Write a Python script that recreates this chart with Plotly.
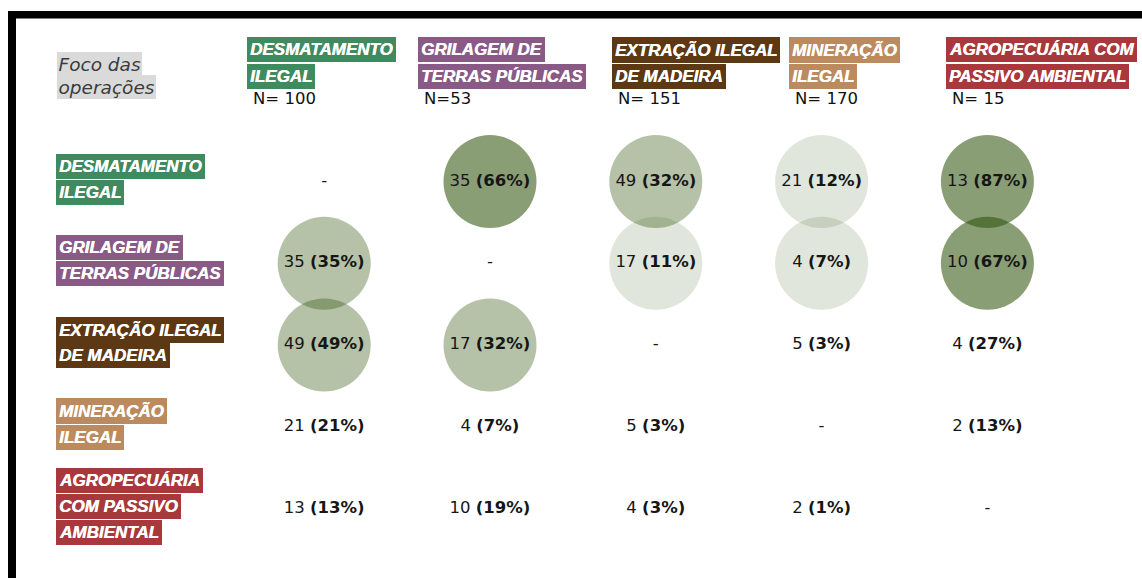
import plotly.graph_objects as go

# ---------------- data ----------------
categorias = ["DESMATAMENTO ILEGAL", "GRILAGEM DE TERRAS PÚBLICAS",
              "EXTRAÇÃO ILEGAL DE MADEIRA", "MINERAÇÃO ILEGAL",
              "AGROPECUÁRIA COM PASSIVO AMBIENTAL"]
linhas_cabecalho = [["DESMATAMENTO", "ILEGAL"], ["GRILAGEM DE", "TERRAS PÚBLICAS"],
                    ["EXTRAÇÃO ILEGAL", "DE MADEIRA"], ["MINERAÇÃO", "ILEGAL"],
                    ["AGROPECUÁRIA COM", "PASSIVO AMBIENTAL"]]
linhas_rotulo = [["DESMATAMENTO", "ILEGAL"], ["GRILAGEM DE", "TERRAS PÚBLICAS"],
                 ["EXTRAÇÃO ILEGAL", "DE MADEIRA"], ["MINERAÇÃO", "ILEGAL"],
                 ["AGROPECUÁRIA", "COM PASSIVO", "AMBIENTAL"]]
n_rotulos = ["N= 100", "N=53", "N= 151", "N= 170", "N= 15"]
titulo_eixo = ["Foco das", "operações"]

# rows = row category, columns = column category (None = diagonal)
contagens = [
    [None, 35, 49, 21, 13],
    [35, None, 17, 4, 10],
    [49, 17, None, 5, 4],
    [21, 4, 5, None, 2],
    [13, 10, 4, 2, None],
]
percentuais = [
    [None, 66, 32, 12, 87],
    [35, None, 11, 7, 67],
    [49, 32, None, 3, 27],
    [21, 7, 3, None, 13],
    [13, 19, 3, 1, None],
]
# circle highlight level (0 = none, 1 = light, 2 = medium, 3 = dark)
destaque = [
    [0, 3, 2, 1, 3],
    [2, 0, 1, 1, 3],
    [2, 2, 0, 0, 0],
    [0, 0, 0, 0, 0],
    [0, 0, 0, 0, 0],
]

# ---------------- style / layout ----------------
W, H = 1142, 578
cores_cat = ["#3f8a5e", "#8a5a86", "#5c3815", "#bb8b5f", "#a8383b"]
alpha_nivel = {1: 0.14, 2: 0.35, 3: 0.55}
base_circulo = "42,79,6"
COL0_PX, COL_STEP = 324.2, 165.8
ROW0_PX, ROW_STEP = 181.6, 81.74
HEADER_LEFT = [247, 418, 612, 789, 946]
HEADER_LINE_Y = [50, 76.2]
N_Y = 99
LABEL_LEFT = 56
LABEL_PITCH = 26
LABEL_FONT = dict(family="Liberation Sans", size=17, color="white",
                  shadow="0.45px 0px 0px white")
TXT_FAMILY = "DejaVu Sans"


def rotulo(t):
    return f"<b><i>{t}</i></b>"


fig = go.Figure()

# circles
for nivel in (1, 2, 3):
    xs, ys = [], []
    for i, linha in enumerate(destaque):
        for j, v in enumerate(linha):
            if v == nivel:
                xs.append(categorias[j])
                ys.append(categorias[i])
    fig.add_trace(go.Scatter(
        x=xs, y=ys, mode="markers", hoverinfo="skip", showlegend=False,
        marker=dict(size=93, color=f"rgba({base_circulo},{alpha_nivel[nivel]})",
                    line=dict(width=0))))

# cell texts
xs, ys, ts = [], [], []
for i in range(len(categorias)):
    for j in range(len(categorias)):
        xs.append(categorias[j])
        ys.append(categorias[i])
        c, p = contagens[i][j], percentuais[i][j]
        ts.append("-" if c is None else f"{c} <b>({p}%)</b>")
fig.add_trace(go.Scatter(
    x=xs, y=ys, mode="text", text=ts, textposition="middle center",
    hoverinfo="skip", showlegend=False,
    textfont=dict(family=TXT_FAMILY, size=16.5, color="#161616")))

ann = []
# axis title box
for k, t in enumerate(titulo_eixo):
    ann.append(dict(text=f"<i>{t}</i>", x=57 / W, y=1 - (64 + 23 * k) / H,
                    xref="paper", yref="paper",
                    xanchor="left", yanchor="middle", showarrow=False,
                    bgcolor="#dadada", borderpad=1.5, borderwidth=0,
                    font=dict(family=TXT_FAMILY, size=18.5, color="#3a3a3a")))
# column headers
for j, linhas in enumerate(linhas_cabecalho):
    for k, t in enumerate(linhas):
        ann.append(dict(text=rotulo(t), x=HEADER_LEFT[j] / W, y=1 - HEADER_LINE_Y[k] / H,
                        xref="paper", yref="paper", xanchor="left", yanchor="middle",
                        showarrow=False, bgcolor=cores_cat[j], borderpad=3, borderwidth=0,
                        font=LABEL_FONT))
    ann.append(dict(text=n_rotulos[j], x=(HEADER_LEFT[j] + 4) / W, y=1 - N_Y / H,
                    xref="paper", yref="paper", xanchor="left", yanchor="middle",
                    showarrow=False, font=dict(family=TXT_FAMILY, size=16.5, color="#111111")))
# row labels
for i, linhas in enumerate(linhas_rotulo):
    n = len(linhas)
    for k, t in enumerate(linhas):
        ann.append(dict(text=rotulo(t), x=LABEL_LEFT / W, y=categorias[i], xref="paper", yref="y",
                        xanchor="left", yanchor="middle", showarrow=False,
                        yshift=-(k - (n - 1) / 2) * LABEL_PITCH + 2.5,
                        bgcolor=cores_cat[i], borderpad=3, borderwidth=0, font=LABEL_FONT))

shapes = [
    dict(type="rect", xref="paper", yref="paper", x0=8 / W, x1=1.0, y0=1 - 18.5 / H, y1=1 - 11 / H,
         fillcolor="black", line=dict(width=0), layer="below"),
    dict(type="rect", xref="paper", yref="paper", x0=8 / W, x1=16 / W, y0=0, y1=1 - 11 / H,
         fillcolor="black", line=dict(width=0), layer="below"),
]

x0 = -COL0_PX / COL_STEP
x1 = (W - COL0_PX) / COL_STEP
yt = -ROW0_PX / ROW_STEP
yb = (H - ROW0_PX) / ROW_STEP

fig.update_layout(
    width=W, height=H, margin=dict(l=0, r=0, t=0, b=0, pad=0),
    paper_bgcolor="white", plot_bgcolor="white",
    xaxis=dict(type="category", categoryorder="array", categoryarray=categorias,
               range=[x0, x1], visible=False, fixedrange=True),
    yaxis=dict(type="category", categoryorder="array", categoryarray=categorias,
               range=[yb, yt], visible=False, fixedrange=True),
    annotations=ann, shapes=shapes, showlegend=False,
)

fig.write_html("out.html", config={"displayModeBar": False},
               post_script="document.body.style.margin='0';document.body.style.overflow='hidden';")
